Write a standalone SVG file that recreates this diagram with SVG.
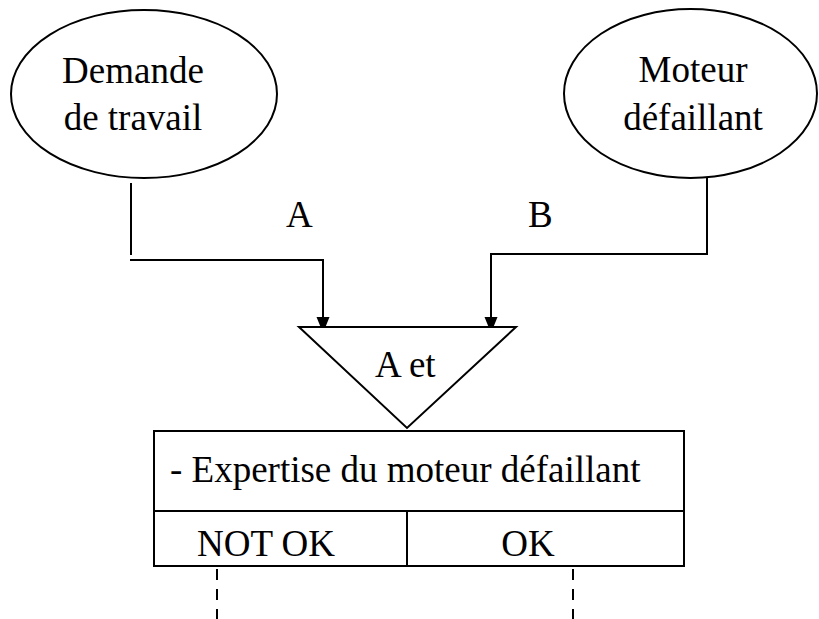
<svg xmlns="http://www.w3.org/2000/svg" width="819" height="619" viewBox="0 0 819 619">
  <style>
    .shape { fill: #ffffff; stroke: #000000; stroke-width: 2; }
    .line { fill: none; stroke: #000000; stroke-width: 2; }
    .dash { fill: none; stroke: #000000; stroke-width: 2; stroke-dasharray: 11 9; }
    text { font-family: "Liberation Serif", "Times New Roman", serif; font-size: 37px; fill: #000000; }
    .mid { text-anchor: middle; }
  </style>
  <rect width="819" height="619" fill="#ffffff"/>

  <g id="demande">
    <ellipse class="shape" cx="144" cy="94" rx="133" ry="84"/>
    <text class="mid" x="133" y="83">Demande</text>
    <text class="mid" x="133" y="130">de travail</text>
  </g>

  <g id="moteur">
    <ellipse class="shape" cx="690.5" cy="93.5" rx="126.5" ry="84.5"/>
    <text class="mid" x="693" y="82">Moteur</text>
    <text class="mid" x="693" y="130">défaillant</text>
  </g>

  <g id="connectors">
    <path class="line" d="M131,183 L131,255"/>
    <path class="line" d="M130,260 L323,260 L323,317"/>
    <path d="M316.5,317 L329.5,317 L323,333 Z" fill="#000000"/>
    <path class="line" d="M707,178 L707,254 L491,254 L491,317"/>
    <path d="M484.5,317 L497.5,317 L491,333 Z" fill="#000000"/>
    <path class="dash" d="M217,569 L217,619"/>
    <path class="dash" d="M573,569 L573,619"/>
  </g>

  <g id="labels">
    <text x="286" y="227">A</text>
    <text x="528" y="227">B</text>
  </g>

  <g id="et">
    <path class="shape" d="M299,327 L516,327 L407,428 Z"/>
    <text x="375" y="377">A et</text>
  </g>

  <g id="expertise">
    <rect class="shape" x="154" y="431" width="530" height="135"/>
    <path class="line" d="M154,511 L684,511 M407,511 L407,566"/>
    <text x="170" y="482">- Expertise du moteur défaillant</text>
    <text class="mid" x="266" y="556">NOT OK</text>
    <text class="mid" x="528" y="556">OK</text>
  </g>
</svg>
